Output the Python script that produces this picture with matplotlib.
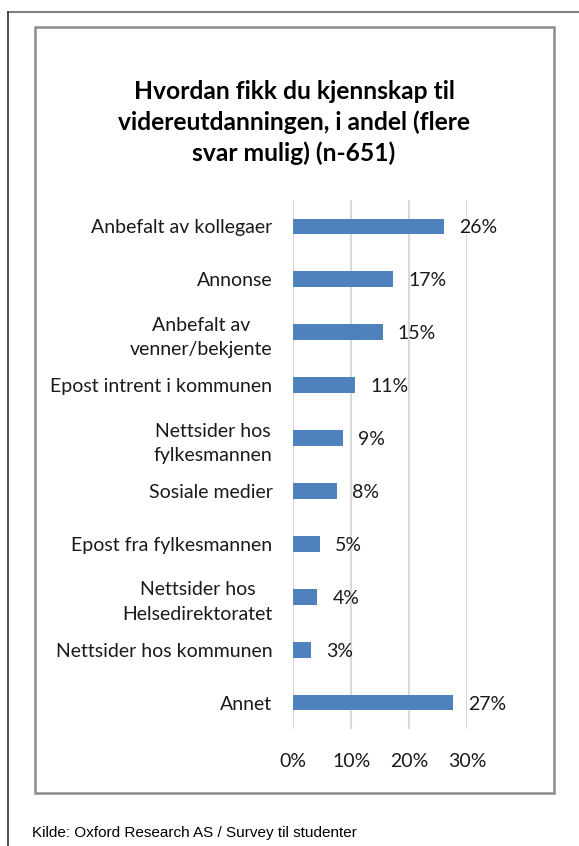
import matplotlib
matplotlib.use('Agg')
import matplotlib.pyplot as plt
from matplotlib.patches import Rectangle
from matplotlib.lines import Line2D

# data (andel i prosent)
kategorier = ['Anbefalt av kollegaer', 'Annonse', 'Anbefalt av\nvenner/bekjente',
              'Epost intrent i kommunen', 'Nettsider hos\nfylkesmannen', 'Sosiale medier',
              'Epost fra fylkesmannen', 'Nettsider hos\nHelsedirektoratet',
              'Nettsider hos kommunen', 'Annet']
andel = [25.9, 17.2, 15.4, 10.7, 8.6, 7.5, 4.6, 4.1, 3.0, 27.5]
etiketter = ['26%', '17%', '15%', '11%', '9%', '8%', '5%', '4%', '3%', '27%']
xticks = [0, 10, 20, 30]
xticklabels = ['0%', '10%', '20%', '30%']

W, H = 579, 846
plt.rcParams['font.family'] = ['Lato', 'DejaVu Sans']
fig = plt.figure(figsize=(W / 100, H / 100), dpi=100)

# rammer
fig.add_artist(Line2D([8 / W, 1], [1 - 12 / H, 1 - 12 / H], color='#808080', lw=1.5))
fig.add_artist(Line2D([8 / W, 8 / W], [0, 1 - 12 / H], color='#303030', lw=1.2))
fig.add_artist(Rectangle((35 / W, 1 - 793 / H), (554 - 35) / W, (793 - 27) / H,
                         fill=False, edgecolor='#8c8c8c', lw=1.8))

ax = fig.add_axes([293.3 / W, 1 - 729 / H, (467.3 - 293.3) / W, (729 - 200) / H])
y = list(range(len(kategorier)))
bars = ax.barh(y, andel, height=0.3, color='#4f81bd', zorder=3)
txt = ax.bar_label(bars, labels=etiketter, padding=11, fontsize=14, color='#1a1a1a')
for t in txt:
    t.set_va('center_baseline')
ax.set_xlim(0, 30)
ax.set_ylim(len(kategorier) - 0.5, -0.5)
ax.set_xticks(xticks)
ax.set_xticklabels(xticklabels, fontsize=14, color='#1a1a1a')
ax.set_yticks(y)
ax.set_yticklabels(kategorier, fontsize=14, color='#1a1a1a', multialignment='center',
                   linespacing=1.55)
ax.tick_params(axis='x', length=0, pad=17)
ax.tick_params(axis='y', length=0, pad=15)
ax.grid(axis='x', color='#d9d9d9', lw=1.5, zorder=0)
for s in ax.spines.values():
    s.set_visible(False)

fig.text(294 / W, 1 - 80 / H,
         'Hvordan fikk du kjennskap til\nvidereutdanningen, i andel (flere\nsvar mulig) (n-651)',
         ha='center', va='top', fontsize=17.7, fontweight='bold', linespacing=1.38)

fig.text(32 / W, 1 - 837 / H, 'Kilde: Oxford Research AS / Survey til studenter',
         ha='left', va='baseline', fontsize=11, family=['Liberation Sans Narrow', 'Liberation Sans'])

fig.savefig('out.png', dpi=100)
